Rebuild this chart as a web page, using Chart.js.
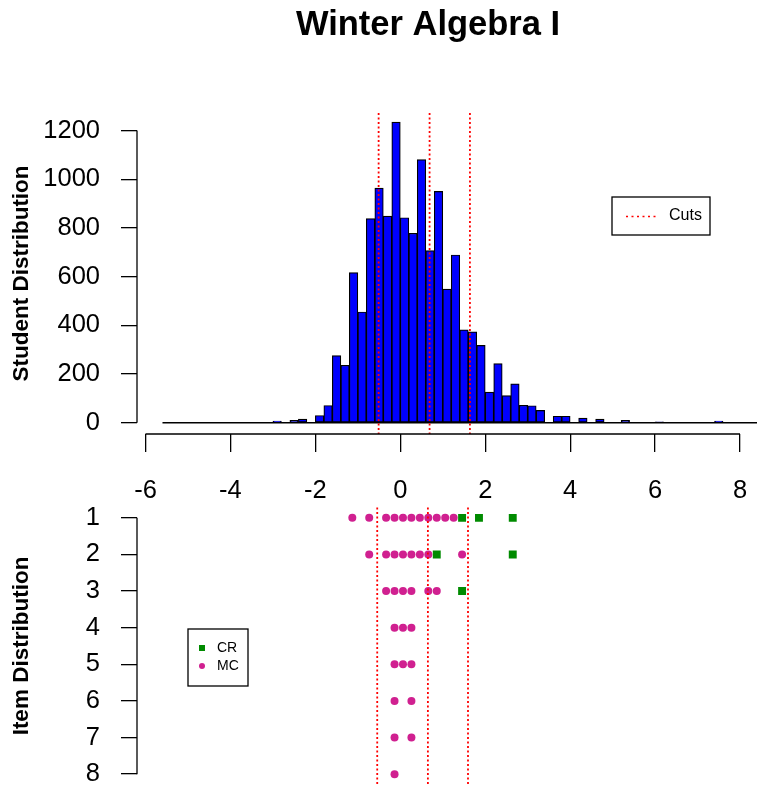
<!DOCTYPE html>
<html>
<head>
<meta charset="utf-8">
<title>Winter Algebra I</title>
<script src="https://cdn.jsdelivr.net/npm/chart.js@4.4.1/dist/chart.umd.min.js"></script>
<style>
  html, body { margin: 0; padding: 0; background: #fff; }
  #wrap { position: relative; width: 759px; height: 790px; }
  #wrap canvas { position: absolute; left: 0; top: 0; }
</style>
</head>
<body>
<div id="wrap">
  <canvas id="itemChart" width="759" height="790"></canvas>
  <canvas id="histChart" width="759" height="790"></canvas>
</div>
<script>
// Datos del grafico
const chartTitle = 'Winter Algebra I';

// histograma: cortes cada 0.2 desde -5.6
const binStart = -5.6;
const binWidth = 0.2;
const studentCounts = [
    0, 0, 0, 0, 0, 0, 0, 0, 0, 0, 0, 0, 0,      // -5.6 .. -3.2
    7, 0, 10, 15, 0, 30, 71, 276, 236, 617,     // -3.0 .. -1.2
    455, 838, 964, 849, 1235, 842, 778, 1081,   // -1.0 .. 0.4
    707, 950, 549, 689, 382, 373, 318, 126,     // 0.6 .. 2.0
    243, 112, 160, 72, 70, 51, 0, 27, 27, 0,    // 2.2 .. 4.0
    19, 0, 15, 0, 0, 10, 0, 0, 0, 4,            // 4.2 .. 6.0
    0, 0, 0, 0, 0, 0, 7, 0, 0, 0, 0             // 6.2 .. 8.2
];

const cuts = [-0.51, 0.69, 1.64];

const xTicks = [-6, -4, -2, 0, 2, 4, 6, 8];
const countTicks = [0, 200, 400, 600, 800, 1000, 1200];
const itemTicks = [1, 2, 3, 4, 5, 6, 7, 8];

// items: dificultad y fila
const mcDifficulty = [
    -1.1, -0.7, -0.3, -0.1, 0.1, 0.3, 0.5, 0.7, 0.9, 1.1, 1.3,
    -0.7, -0.3, -0.1, 0.1, 0.3, 0.5, 0.7, 1.5,
    -0.3, -0.1, 0.1, 0.3, 0.7, 0.9,
    -0.1, 0.1, 0.3,
    -0.1, 0.1, 0.3,
    -0.1, 0.3,
    -0.1, 0.3,
    -0.1
];
const mcItem = [
    1, 1, 1, 1, 1, 1, 1, 1, 1, 1, 1,
    2, 2, 2, 2, 2, 2, 2, 2,
    3, 3, 3, 3, 3, 3,
    4, 4, 4,
    5, 5, 5,
    6, 6,
    7, 7,
    8
];
const crDifficulty = [1.5, 1.9, 2.7, 0.9, 2.7, 1.5];
const crItem = [1, 1, 1, 2, 2, 3];

const plotFont = '"Liberation Sans", Arial, Helvetica, sans-serif';
const cutColor = '#FF0000';
const mcColor = '#D02090';
const crColor = '#008B00';

Chart.defaults.font.family = plotFont;
Chart.defaults.color = '#000';

function fixedTicks(values) {
    return function (scale) {
        scale.ticks = values.map(v => ({ value: v }));
    };
}

// sin relleno extra por las etiquetas, asi el area queda donde la pongo
function fixWidth(w) {
    return function (s) {
        s.width = w;
        s.paddingTop = 0;
        s.paddingBottom = 0;
    };
}
function fixHeight(h) {
    return function (s) {
        s.height = h;
        s.paddingLeft = 0;
        s.paddingRight = 0;
    };
}

// ejes estilo R: la linea solo cubre del primer al ultimo tick
const rAxisLines = {
    id: 'rAxisLines',
    afterDraw(chart) {
        const ctx = chart.ctx;
        const area = chart.chartArea;
        ctx.save();
        ctx.strokeStyle = '#000';
        ctx.lineWidth = 1.3;
        Object.values(chart.scales).forEach(scale => {
            if (!scale.options.display || !scale.ticks.length) return;
            const a = scale.getPixelForValue(scale.ticks[0].value);
            const b = scale.getPixelForValue(scale.ticks[scale.ticks.length - 1].value);
            ctx.beginPath();
            if (scale.isHorizontal()) {
                ctx.moveTo(a, area.bottom);
                ctx.lineTo(b, area.bottom);
            } else {
                ctx.moveTo(area.left, a);
                ctx.lineTo(area.left, b);
            }
            ctx.stroke();
        });
        ctx.restore();
    }
};

const cutLines = {
    id: 'cutLines',
    afterDatasetsDraw(chart) {
        const { ctx, chartArea } = chart;
        const x = chart.scales.x;
        ctx.save();
        ctx.strokeStyle = cutColor;
        ctx.lineWidth = 1.8;
        ctx.setLineDash([2, 2.5]);
        cuts.forEach(c => {
            const px = x.getPixelForValue(c);
            ctx.beginPath();
            ctx.moveTo(px, chartArea.top);
            ctx.lineTo(px, chartArea.bottom);
            ctx.stroke();
        });
        ctx.restore();
    }
};

const plotTitle = {
    id: 'plotTitle',
    afterDraw(chart) {
        const ctx = chart.ctx;
        ctx.save();
        ctx.font = 'bold 34.5px ' + plotFont;
        ctx.fillStyle = '#000';
        ctx.textAlign = 'center';
        ctx.textBaseline = 'alphabetic';
        ctx.fillText(chartTitle, 428, 35);
        ctx.restore();
    }
};

// leyenda "Cuts" con caja
const cutLegend = {
    id: 'cutLegend',
    afterDraw(chart) {
        const ctx = chart.ctx;
        ctx.save();
        ctx.strokeStyle = '#000';
        ctx.lineWidth = 1.3;
        ctx.strokeRect(612, 197, 98, 38);
        ctx.strokeStyle = cutColor;
        ctx.lineWidth = 1.5;
        ctx.setLineDash([2, 3.5]);
        ctx.beginPath();
        ctx.moveTo(626, 216.5);
        ctx.lineTo(657, 216.5);
        ctx.stroke();
        ctx.fillStyle = '#000';
        ctx.font = '16px ' + plotFont;
        ctx.textAlign = 'left';
        ctx.textBaseline = 'middle';
        ctx.fillText('Cuts', 669, 216);
        ctx.restore();
    }
};

const itemLegend = {
    id: 'itemLegend',
    afterDraw(chart) {
        const ctx = chart.ctx;
        const ds = chart.data.datasets;
        ctx.save();
        ctx.strokeStyle = '#000';
        ctx.lineWidth = 1.3;
        ctx.strokeRect(188, 629, 60, 57);
        ctx.fillStyle = ds[0].backgroundColor;
        ctx.fillRect(199, 645, 6, 6);
        ctx.fillStyle = ds[1].backgroundColor;
        ctx.beginPath();
        ctx.arc(202, 666, 3, 0, Math.PI * 2);
        ctx.fill();
        ctx.fillStyle = '#000';
        ctx.font = '14px ' + plotFont;
        ctx.textAlign = 'left';
        ctx.textBaseline = 'middle';
        ctx.fillText(ds[0].label, 217, 648);
        ctx.fillText(ds[1].label, 217, 666);
        ctx.restore();
    }
};

const binEnd = binStart + binWidth * studentCounts.length;
const histBars = studentCounts.map((c, i) => ({
    x: +(binStart + binWidth * (i + 0.5)).toFixed(2),
    y: c
}));

const tickFont = { size: 25.5 };
const axisTitleFont = { size: 22.5, weight: 'bold' };

new Chart(document.getElementById('histChart'), {
    type: 'bar',
    data: {
        datasets: [
            {
                type: 'line',
                label: 'base',
                data: [{ x: binStart, y: 0 }, { x: binEnd, y: 0 }],
                borderColor: '#000',
                borderWidth: 1.4,
                pointRadius: 0,
                order: 0
            },
            {
                type: 'bar',
                label: 'Students',
                data: histBars,
                backgroundColor: '#0000FF',
                borderColor: '#000',
                borderWidth: 1.2,
                borderSkipped: false,
                barPercentage: 1,
                categoryPercentage: 1,
                order: 1
            }
        ]
    },
    options: {
        responsive: false,
        animation: false,
        events: [],
        layout: { padding: { left: 0, right: 2, top: 113, bottom: 276 } },
        plugins: {
            legend: { display: false },
            tooltip: { enabled: false },
            title: { display: false }
        },
        scales: {
            x: {
                type: 'linear',
                min: -6.2,
                max: 8.4,
                offset: false,
                afterBuildTicks: fixedTicks(xTicks),
                afterFit: fixHeight(80),
                grid: { offset: false, drawOnChartArea: false, drawTicks: true, tickLength: 18, color: '#000', lineWidth: 1.3 },
                border: { display: false },
                ticks: {
                    autoSkip: false, maxRotation: 0, padding: 24,
                    font: tickFont, color: '#000',
                    callback: v => String(v)
                }
            },
            y: {
                min: -46,
                max: 1272,
                afterBuildTicks: fixedTicks(countTicks),
                afterFit: fixWidth(137),
                grid: { drawOnChartArea: false, drawTicks: true, tickLength: 16, color: '#000', lineWidth: 1.3 },
                border: { display: false },
                ticks: { padding: 21, font: tickFont, color: '#000', callback: v => String(v) },
                title: {
                    display: true,
                    text: 'Student Distribution',
                    font: axisTitleFont,
                    color: '#000',
                    padding: { top: 8.5, bottom: 0 }
                }
            }
        }
    },
    plugins: [rAxisLines, cutLines, cutLegend, plotTitle]
});

new Chart(document.getElementById('itemChart'), {
    type: 'scatter',
    data: {
        datasets: [
            {
                label: 'CR',
                data: crDifficulty.map((d, i) => ({ x: d, y: crItem[i] })),
                pointStyle: 'rect',
                pointRadius: 5.6,
                backgroundColor: crColor,
                borderColor: crColor,
                borderWidth: 0
            },
            {
                label: 'MC',
                data: mcDifficulty.map((d, i) => ({ x: d, y: mcItem[i] })),
                pointStyle: 'circle',
                pointRadius: 4,
                backgroundColor: mcColor,
                borderColor: mcColor,
                borderWidth: 0
            }
        ]
    },
    options: {
        responsive: false,
        animation: false,
        events: [],
        layout: { padding: { left: 0, right: 2, top: 507.6, bottom: 2.6 } },
        plugins: {
            legend: { display: false },
            tooltip: { enabled: false }
        },
        scales: {
            x: { type: 'linear', min: -6.2, max: 8.4, display: false },
            y: {
                min: 0.72,
                max: 8.28,
                reverse: true,
                afterBuildTicks: fixedTicks(itemTicks),
                afterFit: fixWidth(137),
                grid: { drawOnChartArea: false, drawTicks: true, tickLength: 16, color: '#000', lineWidth: 1.3 },
                border: { display: false },
                ticks: { padding: 21, font: tickFont, color: '#000', callback: v => String(v) },
                title: {
                    display: true,
                    text: 'Item Distribution',
                    font: axisTitleFont,
                    color: '#000',
                    padding: { top: 8.5, bottom: 0 }
                }
            }
        }
    },
    plugins: [rAxisLines, cutLines, itemLegend]
});
</script>
</body>
</html>
